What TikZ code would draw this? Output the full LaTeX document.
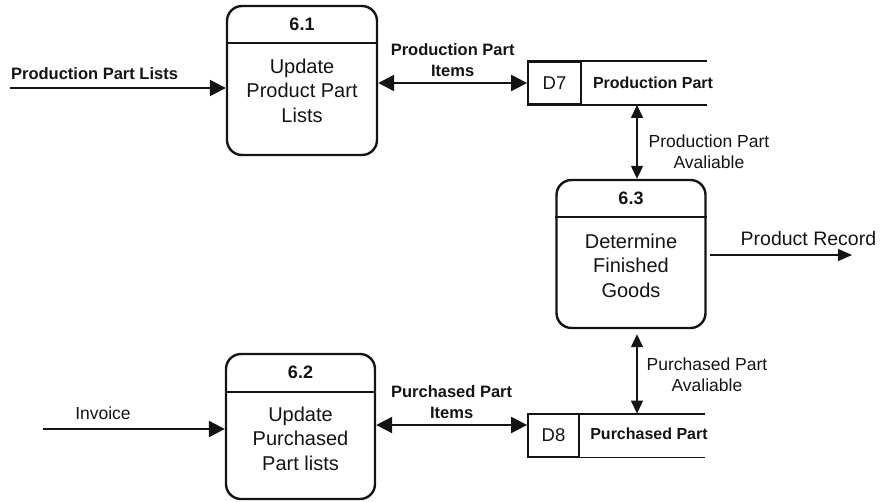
\documentclass[tikz,border=0pt]{standalone}
\usepackage{fontspec}
\setmainfont{Liberation Sans}
\usetikzlibrary{arrows.meta, calc}
\definecolor{dfInk}{HTML}{141414}
\tikzset{
  proc/.style={
    draw=dfInk, line width=2.4pt, rounded corners=15pt,
    minimum width=149pt, minimum height=148pt, inner sep=0pt
  },
  pnum/.style={font=\fontsize{18}{20}\selectfont\bfseries, text=dfInk, inner sep=0pt},
  ptext/.style={font=\fontsize{20}{24.5}\selectfont, text=dfInk, align=center, inner sep=0pt},
  sepline/.style={line width=1.6pt, draw=dfInk},
  storeid/.style={
    draw=dfInk, line width=1.8pt, minimum width=53pt, minimum height=42pt,
    inner sep=0pt, font=\fontsize{18.5}{20}\selectfont, text=dfInk
  },
  storeline/.style={line width=1.8pt, draw=dfInk},
  storetext/.style={font=\fontsize{16}{20}\selectfont\bfseries, text=dfInk, inner sep=0pt},
  flow/.style={-{Triangle[length=16pt, width=16pt]}, line width=2.2pt, draw=dfInk},
  biflow/.style={{Triangle[length=16pt, width=16pt]}-{Triangle[length=16pt, width=16pt]},
    line width=2.2pt, draw=dfInk},
  thinflow/.style={-{Triangle[length=14pt, width=12pt]}, line width=1.3pt, draw=dfInk},
  thinbi/.style={{Triangle[length=13pt, width=12pt]}-{Triangle[length=13pt, width=12pt]},
    line width=1.3pt, draw=dfInk},
  lbl/.style={font=\fontsize{17.5}{21}\selectfont, text=dfInk, align=center, inner sep=0pt},
  blbl/.style={lbl, font=\fontsize{16.5}{21}\selectfont\bfseries},
}

\begin{document}
\begin{tikzpicture}[x=1pt, y=-1pt]
  \useasboundingbox (0,0) rectangle (883,501);

  % Process 6.1
  \node[proc, minimum height=149pt, minimum width=150pt] (p61) at (302,80.5) {};
  \draw[sepline] ($(p61.north west)+(0,38)$) -- ($(p61.north east)+(0,38)$);
  \node[pnum]  (n61) at ($(p61.north)+(0,20)$) {6.1};
  \node[ptext] (t61) at ($(p61.north)+(0,86)$) {Update\\Product Part\\Lists};

  % Process 6.3
  \node[proc] (p63) at (631,254) {};
  \draw[sepline] ($(p63.north west)+(0,38)$) -- ($(p63.north east)+(0,38)$);
  \node[pnum]  (n63) at ($(p63.north)+(0,20)$) {6.3};
  \node[ptext] (t63) at ($(p63.north)+(0,87)$) {Determine\\Finished\\Goods};

  % Process 6.2
  \node[proc, minimum height=145pt] (p62) at (300.5,426.5) {};
  \draw[sepline] ($(p62.north west)+(0,39)$) -- ($(p62.north east)+(0,39)$);
  \node[pnum]  (n62) at ($(p62.north)+(0,19)$) {6.2};
  \node[ptext] (t62) at ($(p62.north)+(0,86)$) {Update\\Purchased\\Part lists};

  % Data stores
  \node[storeid] (d7) at (554.5,83) {D7};
  \draw[storeline] (d7.north west) -- ++(180,0);
  \draw[storeline] (d7.south west) -- ++(180,0);
  \node[storetext] (d7t) at (653,83) {Production Part};

  \node[storeid, minimum width=51pt] (d8) at (553.5,435.5) {D8};
  \draw[storeline] (d8.north west) -- ++(178,0);
  \draw[storeline] (d8.south west) -- ++(178,0);
  \node[storetext] (d8t) at (649,434) {Purchased Part};

  % Flows
  \coordinate (ppl)  at (10,88);
  \coordinate (inv)  at (43,429);
  \coordinate (prec) at (852,255);
  \coordinate (d8in) at ($(d8.west)+(0,-10.5)$);
  \coordinate (c63t) at ([xshift=6pt]p63.north);
  \coordinate (c63b) at ([xshift=6pt]p63.south);

  \draw[flow] (ppl) -- (p61.west |- ppl)
    node[blbl, pos=0, anchor=south west, yshift=7pt] {Production Part Lists};
  \draw[biflow] (p61.east |- d7.west) -- (d7.west)
    node[blbl, midway, above=5pt] {Production Part\\Items};
  \draw[thinbi] (c63t |- d7.south) -- (c63t)
    node[lbl, midway, right=11pt, yshift=-10pt] {Production Part\\Avaliable};
  \draw[thinflow, shorten <=3pt] (p63.east |- prec) -- (prec)
    node[lbl, pos=0.7, above=9pt, font=\fontsize{19.5}{22}\selectfont] {Product Record};
  \draw[thinbi, shorten <=5pt] (c63b) -- (c63b |- d8.north)
    node[lbl, midway, right=9pt, yshift=-3pt] {Purchased Part\\Avaliable};
  \draw[biflow] (p62.east |- d8in) -- (d8in)
    node[blbl, midway, above=5pt] {Purchased Part\\Items};
  \draw[flow] (inv) -- (p62.west |- inv)
    node[lbl, pos=0.33, above=8pt] {Invoice};
\end{tikzpicture}
\end{document}
